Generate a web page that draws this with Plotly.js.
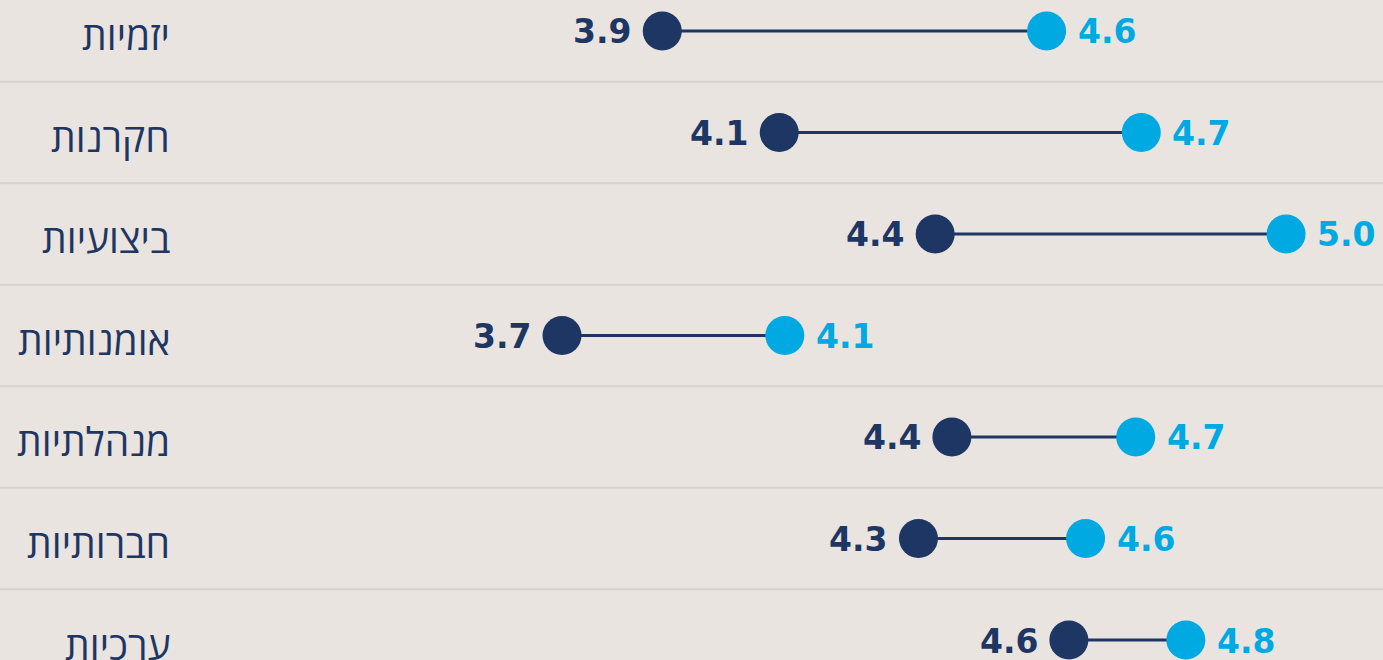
<!DOCTYPE html>
<html>
<head>
<meta charset="utf-8">
<script src="https://cdn.plot.ly/plotly-3.0.1.min.js"></script>
<style>
html,body{margin:0;padding:0;background:#E9E4DF;}
#chart{width:1383px;height:660px;}
</style>
</head>
<body>
<div id="chart"></div>
<script>
var categories = ['יזמיות','חקרנות','ביצועיות','אומנותיות','מנהלתיות','חברותיות','ערכיות'];
var navyValues = [3.88, 4.09, 4.37, 3.70, 4.40, 4.34, 4.61];
var blueValues = [4.57, 4.74, 5.00, 4.10, 4.73, 4.64, 4.82];
var navyLabels = ['3.9','4.1','4.4','3.7','4.4','4.3','4.6'];
var blueLabels = ['4.6','4.7','5.0','4.1','4.7','4.6','4.8'];

var NAVY = '#1D3663';
var BLUE = '#00A9E2';
var rows = categories.map(function(c,i){return i;});

var lx = [], ly = [];
rows.forEach(function(i){
  lx.push(navyValues[i], blueValues[i], null);
  ly.push(i, i, null);
});

var traces = [
  {type:'scatter', mode:'lines', x:lx, y:ly, line:{color:NAVY, width:3}, hoverinfo:'skip', showlegend:false},
  {type:'scatter', mode:'markers', x:navyValues, y:rows,
   marker:{color:NAVY, size:39}, showlegend:false, cliponaxis:false},
  {type:'scatter', mode:'markers', x:blueValues, y:rows,
   marker:{color:BLUE, size:39}, showlegend:false, cliponaxis:false}
];

var shapes = [];
for (var k = 0; k < categories.length - 1; k++) {
  shapes.push({type:'line', xref:'paper', x0:0, x1:1, yref:'y', y0:k+0.5, y1:k+0.5,
               line:{color:'#D8D2CB', width:2}, layer:'below'});
}

var annotations = [];
categories.forEach(function(c,i){
  annotations.push({xref:'paper', x:172/1383, yref:'y', y:i, yshift:-4, text:c, showarrow:false,
          xanchor:'right', yanchor:'middle',
          font:{family:'"Open Sans", "DejaVu Sans", sans-serif', size:39, color:NAVY}});
  annotations.push({xref:'x', x:navyValues[i], yref:'y', y:i, xshift:-29, yshift:-1, text:navyLabels[i],
          showarrow:false, xanchor:'right', yanchor:'middle',
          font:{family:'"DejaVu Sans", sans-serif', size:33, weight:700, color:NAVY}});
  annotations.push({xref:'x', x:blueValues[i], yref:'y', y:i, xshift:29, yshift:-1, text:blueLabels[i],
          showarrow:false, xanchor:'left', yanchor:'middle',
          font:{family:'"DejaVu Sans", sans-serif', size:33, weight:700, color:BLUE}});
});

var layout = {
  width:1383, height:660,
  margin:{l:0, r:0, t:0, b:0},
  paper_bgcolor:'#E9E4DF', plot_bgcolor:'#E9E4DF',
  xaxis:{range:[2.691, 5.174], visible:false, fixedrange:true},
  yaxis:{range:[6.197, -0.305], visible:false, fixedrange:true},
  shapes:shapes,
  annotations:annotations,
  showlegend:false
};

Plotly.newPlot('chart', traces, layout, {displayModeBar:false, staticPlot:true});
</script>
</body>
</html>
